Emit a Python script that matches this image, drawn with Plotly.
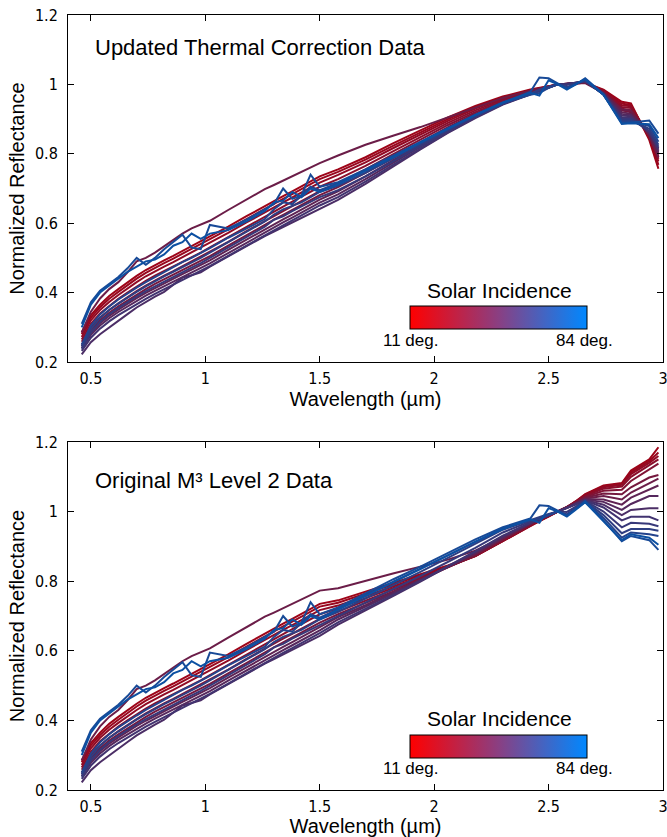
import plotly.graph_objects as go

# ---------------- data ----------------
WAVE_VNIR = [0.46, 0.50, 0.54, 0.58, 0.62, 0.66, 0.70, 0.74, 0.78, 0.82, 0.86, 0.90,
             0.94, 0.98, 1.02, 1.10, 1.18, 1.26, 1.30, 1.34, 1.38, 1.42, 1.46, 1.50]
WAVE_TAIL = [1.58, 1.70, 1.82, 1.94, 2.06, 2.18, 2.30, 2.42, 2.46, 2.50, 2.54, 2.58,
             2.62, 2.66, 2.74, 2.82, 2.86, 2.94, 2.98]

INCIDENCE = [11, 14, 17, 21, 26, 31, 36, 42, 47, 52, 57, 62, 67, 72, 78, 84]

# shared short-wavelength part (same in both panels)
VNIR_11 = [0.285, 0.335, 0.365, 0.390, 0.410, 0.430, 0.448, 0.465, 0.480, 0.493, 0.506, 0.520, 0.533, 0.546, 0.560, 0.590, 0.620, 0.650, 0.664, 0.678, 0.692, 0.706, 0.720, 0.735]
VNIR_14 = [0.280, 0.328, 0.358, 0.382, 0.402, 0.422, 0.440, 0.457, 0.472, 0.485, 0.498, 0.512, 0.525, 0.538, 0.552, 0.582, 0.612, 0.642, 0.656, 0.670, 0.684, 0.698, 0.712, 0.727]
VNIR_17 = [0.272, 0.320, 0.350, 0.373, 0.393, 0.412, 0.430, 0.447, 0.462, 0.475, 0.488, 0.502, 0.515, 0.528, 0.542, 0.572, 0.602, 0.632, 0.646, 0.660, 0.674, 0.688, 0.702, 0.717]
VNIR_21 = [0.265, 0.310, 0.340, 0.362, 0.382, 0.400, 0.418, 0.434, 0.449, 0.462, 0.475, 0.489, 0.502, 0.515, 0.530, 0.560, 0.590, 0.620, 0.634, 0.648, 0.662, 0.676, 0.690, 0.705]
VNIR_26 = [0.258, 0.300, 0.328, 0.350, 0.369, 0.387, 0.404, 0.420, 0.435, 0.449, 0.462, 0.476, 0.489, 0.502, 0.516, 0.546, 0.577, 0.607, 0.621, 0.635, 0.649, 0.663, 0.677, 0.692]
VNIR_31 = [0.250, 0.292, 0.320, 0.342, 0.360, 0.377, 0.394, 0.410, 0.425, 0.438, 0.451, 0.465, 0.478, 0.491, 0.505, 0.535, 0.566, 0.596, 0.610, 0.624, 0.638, 0.652, 0.666, 0.681]
VNIR_36 = [0.285, 0.345, 0.383, 0.410, 0.430, 0.458, 0.490, 0.500, 0.515, 0.533, 0.550, 0.570, 0.585, 0.596, 0.607, 0.638, 0.668, 0.698, 0.710, 0.723, 0.736, 0.748, 0.760, 0.773]
VNIR_42 = [0.245, 0.285, 0.312, 0.333, 0.351, 0.368, 0.384, 0.399, 0.413, 0.426, 0.439, 0.453, 0.466, 0.479, 0.493, 0.523, 0.553, 0.583, 0.597, 0.611, 0.625, 0.639, 0.653, 0.668]
VNIR_47 = [0.240, 0.278, 0.305, 0.326, 0.344, 0.360, 0.376, 0.391, 0.405, 0.418, 0.431, 0.444, 0.457, 0.470, 0.484, 0.514, 0.544, 0.574, 0.588, 0.602, 0.616, 0.630, 0.644, 0.659]
VNIR_52 = [0.222, 0.257, 0.280, 0.300, 0.318, 0.338, 0.357, 0.373, 0.388, 0.402, 0.422, 0.443, 0.450, 0.458, 0.475, 0.505, 0.535, 0.563, 0.576, 0.589, 0.602, 0.615, 0.629, 0.643]
VNIR_57 = [0.232, 0.270, 0.296, 0.317, 0.335, 0.351, 0.367, 0.382, 0.396, 0.409, 0.422, 0.436, 0.449, 0.462, 0.476, 0.506, 0.536, 0.566, 0.580, 0.594, 0.608, 0.622, 0.636, 0.651]
VNIR_62 = [0.238, 0.285, 0.315, 0.338, 0.356, 0.373, 0.389, 0.404, 0.418, 0.431, 0.446, 0.458, 0.472, 0.485, 0.500, 0.530, 0.560, 0.590, 0.610, 0.620, 0.635, 0.648, 0.660, 0.675]
VNIR_67 = [0.245, 0.295, 0.327, 0.350, 0.368, 0.386, 0.402, 0.418, 0.433, 0.447, 0.460, 0.473, 0.487, 0.500, 0.515, 0.545, 0.575, 0.605, 0.625, 0.640, 0.650, 0.660, 0.675, 0.690]
VNIR_72 = [0.250, 0.305, 0.337, 0.360, 0.380, 0.398, 0.414, 0.430, 0.445, 0.460, 0.475, 0.488, 0.500, 0.513, 0.528, 0.558, 0.585, 0.612, 0.640, 0.660, 0.655, 0.680, 0.705, 0.695]
VNIR_78 = [0.310, 0.372, 0.405, 0.425, 0.445, 0.470, 0.500, 0.480, 0.500, 0.525, 0.545, 0.567, 0.530, 0.525, 0.595, 0.585, 0.610, 0.640, 0.655, 0.700, 0.670, 0.680, 0.740, 0.705]
VNIR_84 = [0.300, 0.365, 0.400, 0.420, 0.440, 0.460, 0.475, 0.490, 0.495, 0.510, 0.535, 0.545, 0.570, 0.555, 0.570, 0.580, 0.605, 0.635, 0.660, 0.665, 0.690, 0.675, 0.700, 0.690]

# long-wavelength part, updated thermal correction (top panel)
TOP_11 = [0.755, 0.790, 0.830, 0.868, 0.905, 0.938, 0.965, 0.985, 0.990, 0.995, 1.000, 1.001, 1.003, 1.005, 0.985, 0.950, 0.945, 0.840, 0.757]
TOP_14 = [0.748, 0.783, 0.823, 0.862, 0.900, 0.934, 0.962, 0.983, 0.989, 0.994, 1.000, 1.001, 1.003, 1.005, 0.983, 0.945, 0.940, 0.845, 0.768]
TOP_17 = [0.739, 0.775, 0.816, 0.856, 0.895, 0.930, 0.959, 0.981, 0.988, 0.994, 1.000, 1.001, 1.003, 1.006, 0.982, 0.940, 0.937, 0.850, 0.778]
TOP_21 = [0.727, 0.765, 0.807, 0.848, 0.889, 0.925, 0.956, 0.979, 0.987, 0.993, 1.000, 1.001, 1.003, 1.006, 0.980, 0.935, 0.932, 0.852, 0.785]
TOP_26 = [0.715, 0.755, 0.798, 0.841, 0.883, 0.920, 0.953, 0.977, 0.986, 0.993, 1.000, 1.001, 1.003, 1.007, 0.978, 0.930, 0.926, 0.855, 0.792]
TOP_31 = [0.704, 0.745, 0.790, 0.834, 0.877, 0.916, 0.950, 0.976, 0.985, 0.992, 1.000, 1.001, 1.004, 1.007, 0.976, 0.925, 0.920, 0.857, 0.798]
TOP_36 = [0.795, 0.826, 0.852, 0.877, 0.905, 0.934, 0.961, 0.982, 0.988, 0.994, 1.000, 1.001, 1.002, 1.004, 0.975, 0.928, 0.924, 0.852, 0.790]
TOP_42 = [0.692, 0.735, 0.781, 0.827, 0.871, 0.911, 0.947, 0.974, 0.984, 0.992, 1.000, 1.001, 1.004, 1.008, 0.975, 0.920, 0.915, 0.858, 0.803]
TOP_47 = [0.683, 0.727, 0.774, 0.821, 0.866, 0.908, 0.945, 0.973, 0.983, 0.991, 1.000, 1.001, 1.004, 1.008, 0.974, 0.915, 0.912, 0.860, 0.808]
TOP_52 = [0.667, 0.713, 0.763, 0.813, 0.860, 0.903, 0.942, 0.971, 0.982, 0.991, 1.000, 1.001, 1.004, 1.009, 0.972, 0.910, 0.908, 0.862, 0.812]
TOP_57 = [0.675, 0.720, 0.768, 0.816, 0.862, 0.905, 0.943, 0.972, 0.982, 0.991, 1.000, 1.001, 1.004, 1.009, 0.972, 0.905, 0.904, 0.864, 0.816]
TOP_62 = [0.695, 0.735, 0.778, 0.823, 0.866, 0.907, 0.944, 0.972, 0.980, 0.990, 1.000, 0.998, 1.005, 1.010, 0.971, 0.900, 0.900, 0.866, 0.820]
TOP_67 = [0.708, 0.745, 0.786, 0.829, 0.870, 0.909, 0.945, 0.973, 0.985, 0.993, 1.000, 0.992, 1.003, 1.012, 0.970, 0.895, 0.896, 0.872, 0.826]
TOP_72 = [0.715, 0.752, 0.792, 0.833, 0.873, 0.911, 0.946, 0.970, 0.975, 0.990, 1.000, 0.990, 1.002, 1.013, 0.970, 0.892, 0.893, 0.880, 0.835]
TOP_78 = [0.718, 0.755, 0.795, 0.835, 0.874, 0.912, 0.948, 0.978, 1.020, 1.018, 1.003, 0.988, 1.000, 1.018, 0.972, 0.888, 0.890, 0.896, 0.858]
TOP_84 = [0.712, 0.750, 0.790, 0.832, 0.872, 0.912, 0.947, 0.976, 0.968, 1.012, 1.000, 0.985, 1.001, 1.015, 0.970, 0.886, 0.888, 0.885, 0.845]

# long-wavelength part, original M3 level 2 (bottom panel)
BOT_11 = [0.745, 0.770, 0.795, 0.818, 0.845, 0.873, 0.915, 0.960, 0.972, 0.986, 1.000, 1.013, 1.030, 1.050, 1.075, 1.082, 1.118, 1.150, 1.185]
BOT_14 = [0.738, 0.764, 0.790, 0.815, 0.843, 0.872, 0.915, 0.960, 0.973, 0.987, 1.000, 1.013, 1.030, 1.049, 1.073, 1.080, 1.113, 1.145, 1.170]
BOT_17 = [0.730, 0.757, 0.785, 0.812, 0.842, 0.872, 0.916, 0.961, 0.974, 0.987, 1.000, 1.013, 1.029, 1.047, 1.070, 1.077, 1.108, 1.140, 1.160]
BOT_21 = [0.722, 0.750, 0.780, 0.809, 0.841, 0.873, 0.917, 0.962, 0.975, 0.988, 1.000, 1.013, 1.028, 1.045, 1.066, 1.072, 1.100, 1.132, 1.150]
BOT_26 = [0.713, 0.743, 0.775, 0.806, 0.840, 0.874, 0.919, 0.963, 0.976, 0.988, 1.000, 1.012, 1.027, 1.042, 1.060, 1.063, 1.088, 1.120, 1.138]
BOT_31 = [0.705, 0.737, 0.770, 0.804, 0.840, 0.876, 0.921, 0.964, 0.977, 0.989, 1.000, 1.012, 1.026, 1.040, 1.052, 1.050, 1.070, 1.098, 1.105]
BOT_36 = [0.780, 0.802, 0.822, 0.842, 0.862, 0.888, 0.925, 0.965, 0.977, 0.989, 1.000, 1.012, 1.025, 1.038, 1.045, 1.035, 1.055, 1.082, 1.095]
BOT_42 = [0.697, 0.731, 0.767, 0.803, 0.841, 0.879, 0.924, 0.966, 0.978, 0.990, 1.000, 1.011, 1.024, 1.036, 1.035, 1.020, 1.040, 1.062, 1.075]
BOT_47 = [0.690, 0.726, 0.764, 0.802, 0.842, 0.882, 0.927, 0.967, 0.979, 0.990, 1.000, 1.011, 1.023, 1.034, 1.028, 1.005, 1.022, 1.045, 1.045]
BOT_52 = [0.675, 0.715, 0.757, 0.799, 0.842, 0.884, 0.929, 0.968, 0.980, 0.990, 1.000, 1.010, 1.022, 1.033, 1.020, 0.990, 1.005, 1.010, 1.010]
BOT_57 = [0.682, 0.720, 0.760, 0.801, 0.843, 0.886, 0.931, 0.969, 0.980, 0.991, 1.000, 1.010, 1.021, 1.032, 1.012, 0.975, 0.985, 0.985, 0.975]
BOT_62 = [0.700, 0.738, 0.777, 0.815, 0.855, 0.896, 0.940, 0.972, 0.982, 0.991, 1.000, 0.999, 1.015, 1.031, 1.000, 0.955, 0.968, 0.965, 0.958]
BOT_67 = [0.712, 0.750, 0.789, 0.827, 0.867, 0.907, 0.948, 0.975, 0.985, 0.993, 1.000, 0.992, 1.012, 1.030, 0.990, 0.938, 0.950, 0.950, 0.945]
BOT_72 = [0.720, 0.760, 0.799, 0.836, 0.874, 0.914, 0.952, 0.976, 0.978, 0.990, 1.000, 0.990, 1.010, 1.028, 0.982, 0.925, 0.940, 0.935, 0.930]
BOT_78 = [0.725, 0.765, 0.805, 0.842, 0.880, 0.920, 0.955, 0.980, 1.018, 1.016, 1.003, 0.988, 1.008, 1.030, 0.975, 0.915, 0.930, 0.918, 0.890]
BOT_84 = [0.718, 0.758, 0.797, 0.835, 0.874, 0.914, 0.950, 0.978, 0.968, 1.010, 1.000, 0.986, 1.006, 1.027, 0.972, 0.918, 0.935, 0.925, 0.905]

VNIR = [VNIR_11, VNIR_14, VNIR_17, VNIR_21, VNIR_26, VNIR_31, VNIR_36, VNIR_42,
        VNIR_47, VNIR_52, VNIR_57, VNIR_62, VNIR_67, VNIR_72, VNIR_78, VNIR_84]
TOP = [TOP_11, TOP_14, TOP_17, TOP_21, TOP_26, TOP_31, TOP_36, TOP_42,
       TOP_47, TOP_52, TOP_57, TOP_62, TOP_67, TOP_72, TOP_78, TOP_84]
BOT = [BOT_11, BOT_14, BOT_17, BOT_21, BOT_26, BOT_31, BOT_36, BOT_42,
       BOT_47, BOT_52, BOT_57, BOT_62, BOT_67, BOT_72, BOT_78, BOT_84]

X_TICKS = [0.5, 1, 1.5, 2, 2.5, 3]
X_TICKTEXT = ["0.5", "1", "1.5", "2", "2.5", "3"]
Y_TICKS = [0.2, 0.4, 0.6, 0.8, 1.0, 1.2]
Y_TICKTEXT = ["0.2", "0.4", "0.6", "0.8", "1", "1.2"]
INC_MIN, INC_MAX = 11, 84
CB_LABELS = ["11 deg.", "84 deg."]

# ---------------- styling ----------------
LINE_STOPS = [(0.0, (158, 4, 24)), (0.5, (84, 41, 94)), (1.0, (12, 80, 162))]
CB_SCALE = [[0.0, "#ff0000"], [0.5, "#8a3f82"], [1.0, "#0088ff"]]


def line_color(inc):
    t = (inc - INC_MIN) / (INC_MAX - INC_MIN)
    for (t0, c0), (t1, c1) in zip(LINE_STOPS[:-1], LINE_STOPS[1:]):
        if t <= t1:
            f = (t - t0) / (t1 - t0)
            c = [round(a + (b - a) * f) for a, b in zip(c0, c1)]
            return "rgb(%d,%d,%d)" % tuple(c)
    return "rgb(%d,%d,%d)" % LINE_STOPS[-1][1]


TICK_FONT = dict(family="Liberation Sans Narrow, DejaVu Sans Condensed, Arial", size=16, color="black")
TEXT_FONT = "Liberation Sans, Arial, Helvetica, sans-serif"

fig = go.Figure()

for tails, xa, ya in [(TOP, "x", "y"), (BOT, "x2", "y2")]:
    for inc, vn, tl in zip(INCIDENCE, VNIR, tails):
        fig.add_trace(go.Scatter(
            x=WAVE_VNIR + WAVE_TAIL, y=vn + tl, mode="lines",
            line=dict(color=line_color(inc), width=2),
            xaxis=xa, yaxis=ya, showlegend=False, hoverinfo="skip"))

cb_common = dict(
    orientation="h", xanchor="center", yanchor="middle", x=0.7235,
    len=0.2975, lenmode="fraction", thickness=23, thicknessmode="pixels",
    outlinecolor="black", outlinewidth=1, xpad=0, ypad=0,
    showticklabels=False, ticks="",
)

# colourbar placement (paper coords): bar centre, title centre, label centre
CB_POS = [dict(bar=0.6084, title=0.6439, label=0.5794, xa="x", ya="y"),
          dict(bar=0.0561, title=0.0929, label=0.0271, xa="x2", ya="y2")]

annotations = [
    dict(text="Updated Thermal Correction Data", x=0.042, y=0.9587, xref="paper",
         yref="paper", xanchor="left", yanchor="middle", showarrow=False,
         font=dict(family=TEXT_FONT, size=22, color="black")),
    dict(text="Original M³ Level 2 Data", x=0.042, y=0.40, xref="paper",
         yref="paper", xanchor="left", yanchor="middle", showarrow=False,
         font=dict(family=TEXT_FONT, size=22, color="black")),
]

for pos in CB_POS:
    fig.add_trace(go.Scatter(
        x=[0.4, 0.4], y=[0.0, 0.0], mode="markers", xaxis=pos["xa"], yaxis=pos["ya"],
        marker=dict(size=1, opacity=0, color=[INC_MIN, INC_MAX], colorscale=CB_SCALE,
                    cmin=INC_MIN, cmax=INC_MAX, showscale=True,
                    colorbar=dict(cb_common, y=pos["bar"])),
        showlegend=False, hoverinfo="skip"))
    annotations.append(dict(text="Solar Incidence", x=0.7244, y=pos["title"], xref="paper",
                            yref="paper", xanchor="center", yanchor="middle", showarrow=False,
                            font=dict(family=TEXT_FONT, size=21, color="black")))
    for lab, xp in zip(CB_LABELS, [0.5748, 0.8689]):
        annotations.append(dict(text=lab, x=xp, y=pos["label"], xref="paper", yref="paper",
                                xanchor="center", yanchor="middle", showarrow=False,
                                font=dict(family=TEXT_FONT, size=17, color="black")))

axis_common = dict(showline=True, linecolor="black", linewidth=1, mirror="ticks",
                   ticks="inside", ticklen=6, tickcolor="black", tickwidth=1,
                   showgrid=False, zeroline=False, tickfont=TICK_FONT, automargin=False)
xaxis_common = dict(axis_common, range=[0.4, 3.0], tickvals=X_TICKS, ticktext=X_TICKTEXT,
                    ticklabeloverflow="allow", ticklabelstandoff=2,
                    title=dict(text="Wavelength (µm)", standoff=3,
                               font=dict(family=TEXT_FONT, size=20, color="black")))
yaxis_common = dict(axis_common, range=[0.2, 1.2], tickvals=Y_TICKS, ticktext=Y_TICKTEXT,
                    ticklabelstandoff=6,
                    title=dict(text="Normalized Reflectance", standoff=4,
                               font=dict(family=TEXT_FONT, size=20, color="black")))

fig.update_layout(
    width=667, height=837,
    margin=dict(l=68, r=4, t=15, b=47, autoexpand=False),
    plot_bgcolor="white", paper_bgcolor="white",
    showlegend=False,
    xaxis=dict(xaxis_common, domain=[0, 1], anchor="y"),
    yaxis=dict(yaxis_common, domain=[0.5523, 1.0], anchor="x"),
    xaxis2=dict(xaxis_common, domain=[0, 1], anchor="y2"),
    yaxis2=dict(yaxis_common, domain=[0.0, 0.449], anchor="x2"),
    annotations=annotations,
)

fig.write_html("out.html", config={"displayModeBar": False},
               post_script="document.body.style.margin='0';document.body.style.overflow='hidden';")
